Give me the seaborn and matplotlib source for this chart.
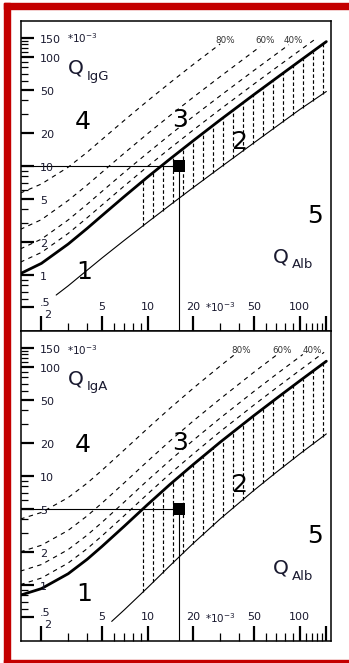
import numpy as np
import matplotlib
matplotlib.use("Agg")
import matplotlib.pyplot as plt
from matplotlib.patches import Rectangle
from matplotlib.ticker import FixedLocator, NullFormatter
from matplotlib.transforms import blended_transform_factory, offset_copy
import seaborn as sns

# ---- data (quotients in units of 10^-3) ----
q_alb = [1.45, 2, 3, 4, 5, 7, 10, 14, 20, 30, 50, 70, 100, 150]

# IgG panel
igg_upper = [1.02, 1.27, 1.91, 2.66, 3.48, 5.20, 7.88, 11.5, 17.0, 26.3, 44.9, 63.4, 91.3, 137.8]
igg_lower_x = [2.5, 3, 4, 5, 7, 10, 14, 20, 30, 50, 70, 100, 150]
igg_lower = [0.65, 0.79, 1.10, 1.42, 2.06, 3.03, 4.34, 6.32, 9.61, 16.2, 22.8, 32.7, 48.0]
igg_if20_x = [1.45, 2, 3, 4, 5, 7, 10, 14, 20, 30, 50, 70, 100, 130]
igg_if20 = [1.30, 1.60, 2.39, 3.33, 4.35, 6.50, 9.85, 14.4, 21.3, 32.9, 56.1, 79.3, 114, 149]
igg_if40_x = [1.45, 2, 3, 4, 5, 7, 10, 14, 20, 30, 50, 85]
igg_if40 = [1.72, 2.12, 3.18, 4.43, 5.80, 8.67, 13.1, 19.2, 28.4, 43.8, 74.8, 129]
igg_if60_x = [1.45, 2, 3, 4, 5, 7, 10, 14, 20, 30, 55]
igg_if60 = [2.6, 3.2, 4.8, 6.65, 8.7, 13.0, 19.7, 28.8, 42.6, 65.7, 124]
igg_if80_x = [1.45, 2, 3, 4, 5, 7, 10, 14, 20, 30]
igg_if80 = [5.6, 6.8, 9.7, 13.3, 17.4, 26.0, 39.4, 57.6, 85.2, 131]
igg_patient = (16, 10)

# IgA panel
iga_upper = [0.80, 0.92, 1.26, 1.71, 2.24, 3.43, 5.44, 8.30, 12.7, 20.3, 35.6, 50.9, 74.0, 112.5]
iga_lower_x = [5.8, 7, 10, 14, 20, 30, 50, 70, 100, 150]
iga_lower = [0.46, 0.585, 0.94, 1.49, 2.40, 4.01, 7.33, 10.7, 15.8, 24.2]
iga_if20_x = [1.45, 2, 3, 4, 5, 7, 10, 14, 20, 30, 50, 70, 100, 145]
iga_if20 = [1.0, 1.15, 1.58, 2.14, 2.8, 4.29, 6.8, 10.4, 15.9, 25.4, 44.5, 63.7, 92.5, 135.8]
iga_if40_x = [1.45, 2, 3, 4, 5, 7, 10, 14, 20, 30, 50, 70, 105]
iga_if40 = [1.33, 1.53, 2.1, 2.85, 3.73, 5.72, 9.07, 13.8, 21.2, 33.8, 59.3, 84.9, 129.7]
iga_if60_x = [1.45, 2, 3, 4, 5, 7, 10, 14, 20, 30, 50, 72]
iga_if60 = [2.0, 2.3, 3.15, 4.28, 5.6, 8.58, 13.6, 20.8, 31.9, 50.7, 89.0, 131]
iga_if80_x = [1.45, 2, 3, 4, 5, 7, 10, 14, 20, 30, 37]
iga_if80 = [4.0, 4.6, 6.3, 8.55, 11.2, 17.2, 27.2, 41.5, 63.7, 101.5, 128]
iga_patient = (16, 5)

# axis ticks
x_major = [2, 5, 10, 20, 50, 100, 150]
x_minor = [3, 4, 6, 7, 8, 9, 30, 40, 60, 70, 80, 90, 110, 120, 130, 140]
x_labels = {5: "5", 10: "10", 20: "20", 50: "50", 100: "100"}
y_major = [0.5, 1, 2, 5, 10, 20, 50, 100, 150]
y_minor = [0.6, 0.7, 0.8, 0.9, 3, 4, 6, 7, 8, 9, 30, 40, 60, 70, 80, 90, 110, 120, 130, 140]
y_labels = {1: "1", 2: "2", 5: "5", 10: "10", 20: "20", 50: "50", 100: "100", 150: "150"}
if_names = ["80%", "60%", "40%"]
zone_names = ["4", "3", "2", "1", "5"]

sns.set_style("white")
plt.rcParams["font.family"] = ["DejaVu Sans"]
plt.rcParams["mathtext.fontset"] = "dejavusans"

W, H = 349, 663
fig = plt.figure(figsize=(W / 100, H / 100), dpi=100)
fig.patch.set_facecolor("white")

RED = "#c40000"
fig.patches.append(Rectangle((4 / W, 0), 6 / W, 660 / H, transform=fig.transFigure, color=RED, zorder=0))
fig.patches.append(Rectangle((4 / W, 1 - 9 / H), (W - 4) / W, 6 / H, transform=fig.transFigure, color=RED, zorder=0))
fig.patches.append(Rectangle((4 / W, 0), (W - 4) / W, 3.5 / H, transform=fig.transFigure, color=RED, zorder=0))

ax1 = fig.add_axes([21 / W, 1 - 331 / H, 310 / W, 310 / H])
ax2 = fig.add_axes([21 / W, 1 - 641 / H, 310 / W, 310 / H])

XLIM = (1.467, 161)
YLIM = (0.304, 213)
TXT = "#1a1a30"
PS = 310.0


def frac(rx, ry):
    return rx / PS, 1 - ry / PS


def line(ax, x, y, **kw):
    sns.lineplot(x=x, y=y, ax=ax, estimator=None, sort=False, legend=False, **kw)


def loginterp(xq, xs, ys):
    return 10 ** np.interp(np.log10(xq), np.log10(xs), np.log10(ys))


panels = [
    dict(ax=ax1, up=igg_upper, lo_x=igg_lower_x, lo=igg_lower,
         ifs=[(igg_if20_x, igg_if20), (igg_if40_x, igg_if40), (igg_if60_x, igg_if60), (igg_if80_x, igg_if80)],
         pat=igg_patient, sub="IgG",
         zones=[(62, 101), (159, 99), (218.5, 121), (63, 251), (294, 195)],
         q=(54.5, 47.5), sub_pos=(66, 55.7), alb=(260, 235.7), alb_sub=(271, 243),
         yunit=(46, 17), xunit=(199, 286),
         pct=[(204, 19.7), (244, 19.7), (272, 19.7)]),
    dict(ax=ax2, up=iga_upper, lo_x=iga_lower_x, lo=iga_lower,
         ifs=[(iga_if20_x, iga_if20), (iga_if40_x, iga_if40), (iga_if60_x, iga_if60), (iga_if80_x, iga_if80)],
         pat=iga_patient, sub="IgA",
         zones=[(62, 114), (159, 111.5), (218.5, 154), (63, 263), (294, 205)],
         q=(54.5, 48), sub_pos=(66, 55), alb=(260, 237.5), alb_sub=(271, 245),
         yunit=(46, 19), xunit=(199, 287),
         pct=[(220, 19.5), (261, 19.5), (291, 19.5)]),
]

for p in panels:
    ax = p["ax"]
    ax.set_xscale("log")
    ax.set_yscale("log")
    ax.set_xlim(*XLIM)
    ax.set_ylim(*YLIM)
    ax.set_facecolor("white")
    for s in ax.spines.values():
        s.set_color("black")
        s.set_linewidth(1.1)

    ax.xaxis.set_major_locator(FixedLocator(x_major))
    ax.xaxis.set_minor_locator(FixedLocator(x_minor))
    ax.yaxis.set_major_locator(FixedLocator(y_major))
    ax.yaxis.set_minor_locator(FixedLocator(y_minor))
    for a in (ax.xaxis, ax.yaxis):
        a.set_major_formatter(NullFormatter())
        a.set_minor_formatter(NullFormatter())
    ax.tick_params(axis="x", which="major", direction="in", length=10.8, width=1.6,
                   bottom=True, top=False, color="black")
    ax.tick_params(axis="x", which="minor", direction="in", length=5.5, width=0.9,
                   bottom=True, top=False, color="black")
    ax.tick_params(axis="y", which="major", direction="in", length=9.4, width=1.6,
                   left=True, right=False, color="black")
    ax.tick_params(axis="y", which="minor", direction="in", length=5.2, width=0.9,
                   left=True, right=False, color="black")
    ax.set_xlabel("")
    ax.set_ylabel("")

    # intrathecal fraction lines
    for xs, ys in p["ifs"]:
        line(ax, xs, ys, color="black", linewidth=0.8, linestyle=(0, (4, 4)))

    # hatched zone between lower and upper limit
    hx = np.geomspace(9.3, 142, 19)
    top = loginterp(hx, q_alb, p["up"])
    bot = loginterp(hx, p["lo_x"], p["lo"])
    ax.vlines(hx, bot, top, colors="black", linewidth=0.85, linestyles=[(0, (3, 2))])

    # limit curves
    line(ax, p["lo_x"], p["lo"], color="black", linewidth=0.8)
    line(ax, q_alb, p["up"], color="black", linewidth=2.0)

    # patient value with guide lines
    px, py = p["pat"]
    ax.plot([XLIM[0], px], [py, py], color="black", linewidth=0.8)
    ax.plot([px, px], [YLIM[0], py], color="black", linewidth=0.8)
    sns.scatterplot(x=[px], y=[py], ax=ax, marker="s", s=70, color="black",
                    edgecolor="black", linewidth=0, zorder=6, legend=False)

    # tick labels drawn inside the frame
    ytr = offset_copy(blended_transform_factory(ax.transAxes, ax.transData), fig=fig, y=-2, units="dots")
    for v, t in y_labels.items():
        ax.text(19 / PS, v, t, transform=ytr, ha="left", va="center", fontsize=8, color=TXT)
    # the 0.5 label and the x label 2 share the lower-left corner
    ax.text(*frac(19, 281.5), ".5", transform=ax.transAxes, ha="left", va="center", fontsize=8, color=TXT)
    ax.text(*frac(27, 293.5), "2", transform=ax.transAxes, ha="center", va="center", fontsize=8, color=TXT)
    xtr = blended_transform_factory(ax.transData, ax.transAxes)
    for v, t in x_labels.items():
        ax.text(v, 1 - 286 / PS, t, transform=xtr, ha="center", va="center", fontsize=8, color=TXT)

    # units
    ax.text(*frac(*p["yunit"]), r"*10$^{\mathregular{-3}}$", transform=ax.transAxes,
            ha="left", va="center", fontsize=7.5, color=TXT)
    ax.text(*frac(*p["xunit"]), r"*10$^{\mathregular{-3}}$", transform=ax.transAxes,
            ha="center", va="center", fontsize=7.5, color=TXT)

    # axis titles
    ax.text(*frac(*p["q"]), "Q", transform=ax.transAxes, ha="center", va="center",
            fontsize=14.5, color=TXT)
    ax.text(*frac(*p["sub_pos"]), p["sub"], transform=ax.transAxes, ha="left", va="center",
            fontsize=9.5, color=TXT)
    ax.text(*frac(*p["alb"]), "Q", transform=ax.transAxes, ha="center", va="center",
            fontsize=14.5, color=TXT)
    ax.text(*frac(*p["alb_sub"]), "Alb", transform=ax.transAxes, ha="left", va="center",
            fontsize=9.5, color=TXT)

    # zone numbers
    for name, pos in zip(zone_names, p["zones"]):
        ax.text(*frac(*pos), name, transform=ax.transAxes, ha="center", va="center",
                fontsize=18, color="black")

    # intrathecal fraction labels
    for name, pos in zip(if_names, p["pct"]):
        ax.text(*frac(*pos), name, transform=ax.transAxes, ha="center", va="center",
                fontsize=6.3, color="#333333")

fig.savefig("out.png", dpi=100, facecolor="white")
